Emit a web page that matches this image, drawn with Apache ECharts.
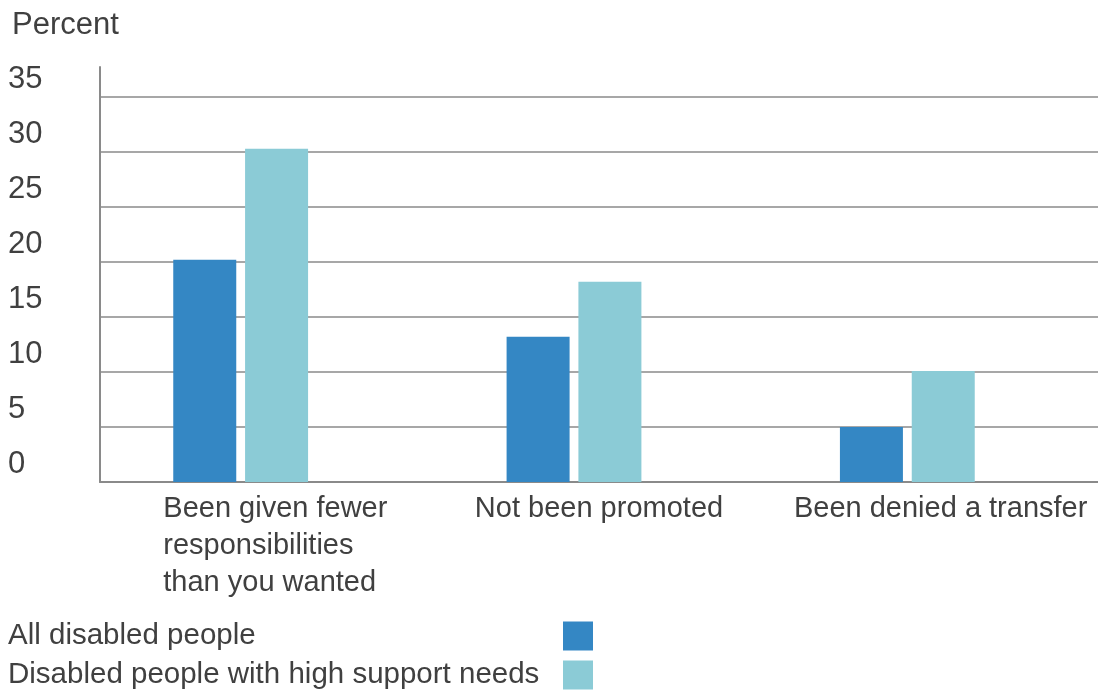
<!DOCTYPE html>
<html>
<head>
<meta charset="utf-8">
<script src="https://cdn.jsdelivr.net/npm/echarts@6/dist/echarts.min.js"></script>
<style>
  html, body { margin: 0; padding: 0; background: #fff; }
  #chart { width: 1098px; height: 695px; }
</style>
</head>
<body>
<div id="chart"></div>
<script>
// data
const categories = ['Been given fewer\nresponsibilities\nthan you wanted', 'Not been promoted', 'Been denied a transfer'];
const allDisabled = [20.2, 13.2, 5.0];
const highSupport = [30.3, 18.2, 10.1];
const seriesNames = ['All disabled people', 'Disabled people with high support needs'];
const yTicks = [0, 5, 10, 15, 20, 25, 30, 35];

const textColor = '#404040';
const axisColor = '#8a8a8a';
const font = 'Liberation Sans, Arial, sans-serif';

const myChart = echarts.init(document.getElementById('chart'));

const option = {
    animation: false,
    textStyle: { fontFamily: font },
    title: {
        text: 'Percent',
        left: 7,
        top: 5,
        textStyle: { fontSize: 31, fontWeight: 'normal', color: textColor, fontFamily: font }
    },
    legend: {
        orient: 'vertical',
        left: 8,
        top: 621,
        align: 'right',
        itemWidth: 30,
        itemHeight: 29,
        itemGap: 9,
        icon: 'rect',
        padding: 0,
        data: seriesNames,
        formatter: (name) => '{t|' + name + '}',
        textStyle: {
            color: textColor,
            fontSize: 29.5,
            rich: {
                t: { width: 550, align: 'left', fontSize: 29.5, lineHeight: 29, color: textColor, fontFamily: font }
            }
        }
    },
    grid: [
        // only the y axis line (it runs above the top gridline)
        { left: 100, right: 0, top: 67, bottom: 213 },
        // gridlines, tick labels, category labels
        { left: 100, right: 0, top: 97, bottom: 213 },
        // bars (pairs sit a bit left of the category centres)
        { left: 74, right: 24, top: 97, bottom: 213 }
    ],
    xAxis: [
        { gridIndex: 0, type: 'category', data: categories, show: false },
        {
            gridIndex: 1,
            type: 'category',
            data: categories.map((c, i) => ({
                value: c,
                textStyle: i === 1 ? {} : { padding: [0, 0, 0, 18] }
            })),
            axisLine: { lineStyle: { color: axisColor, width: 2 } },
            axisTick: { show: false },
            axisLabel: {
                interval: 0,
                margin: 8,
                fontSize: 29,
                lineHeight: 37,
                color: textColor,
                formatter: (v) => v.indexOf('\n') >= 0
                    ? v.split('\n').map(s => '{l|' + s + '}').join('\n')
                    : v,
                rich: {
                    l: { align: 'left', fontSize: 29, lineHeight: 37, color: textColor, fontFamily: font }
                }
            }
        },
        { gridIndex: 2, type: 'category', data: categories, show: false }
    ],
    yAxis: [
        {
            gridIndex: 0, type: 'value', min: 0, max: 1,
            axisLine: { show: true, lineStyle: { color: axisColor, width: 2 } },
            axisTick: { show: false }, axisLabel: { show: false }, splitLine: { show: false }
        },
        {
            gridIndex: 1, type: 'value',
            min: yTicks[0], max: yTicks[yTicks.length - 1], interval: 5,
            axisLine: { show: false },
            axisTick: { show: false },
            axisLabel: {
                align: 'left',
                margin: 92,
                fontSize: 31,
                lineHeight: 31,
                verticalAlign: 'bottom',
                padding: [0, 0, 2, 0],
                color: textColor
            },
            splitLine: { lineStyle: { color: axisColor, width: 1.5 } }
        },
        {
            gridIndex: 2, type: 'value', min: 0, max: 35, show: false,
            splitLine: { show: false }
        }
    ],
    series: [
        {
            name: seriesNames[0],
            type: 'bar',
            xAxisIndex: 2,
            yAxisIndex: 2,
            data: allDisabled,
            barWidth: 63,
            barGap: '14%',
            itemStyle: { color: '#3487c4' }
        },
        {
            name: seriesNames[1],
            type: 'bar',
            xAxisIndex: 2,
            yAxisIndex: 2,
            data: highSupport,
            barWidth: 63,
            barGap: '14%',
            itemStyle: { color: '#8bcbd6' }
        }
    ]
};

myChart.setOption(option);
</script>
</body>
</html>
